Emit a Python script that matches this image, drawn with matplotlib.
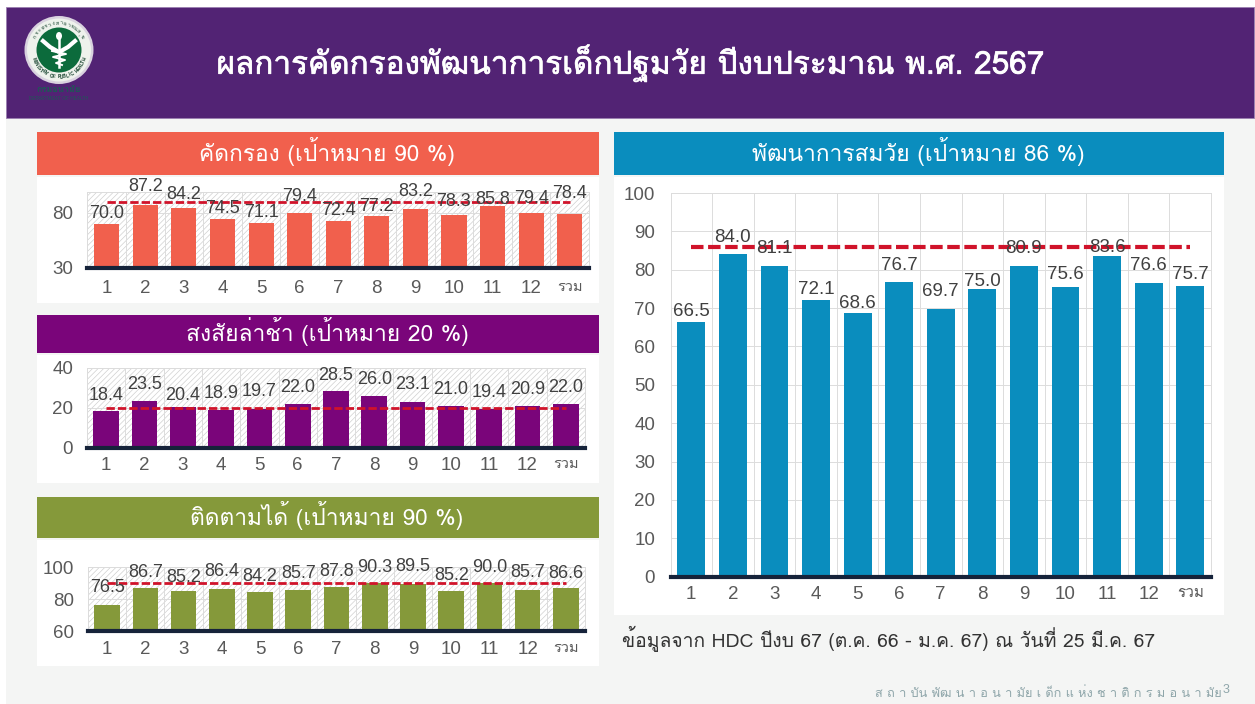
import re
import numpy as np
import matplotlib
matplotlib.use("Agg")
import matplotlib.pyplot as plt
import matplotlib.patheffects as pe
from matplotlib.patches import Rectangle, Ellipse

W, H = 1255, 704
THAI = ["Loma", "Liberation Sans"]
LATIN = ["Liberation Sans", "Loma"]
plt.rcParams["font.family"] = LATIN
plt.rcParams["hatch.linewidth"] = 0.5
plt.rcParams["hatch.color"] = "#d0d0d0"

# ข้อมูล
categories = ["1", "2", "3", "4", "5", "6", "7", "8", "9", "10", "11", "12", "รวม"]
screening = [70.0, 87.2, 84.2, 74.5, 71.1, 79.4, 72.4, 77.2, 83.2, 78.3, 85.8, 79.4, 78.4]
suspected = [18.4, 23.5, 20.4, 18.9, 19.7, 22.0, 28.5, 26.0, 23.1, 21.0, 19.4, 20.9, 22.0]
followup = [76.5, 86.7, 85.2, 86.4, 84.2, 85.7, 87.8, 90.3, 89.5, 85.2, 90.0, 85.7, 86.6]
on_track = [66.5, 84.0, 81.1, 72.1, 68.6, 76.7, 69.7, 75.0, 80.9, 75.6, 83.6, 76.6, 75.7]
target_screening = 90
target_suspected = 20
target_followup = 90
target_on_track = 86

# ระยะป้ายเหนือแท่ง (พิกเซล)
dy_screening = [10, 18, 14, 10, 10.5, 17, 11, 9, 18, 12.6, 7, 15, 21]
dy_suspected = [16, 16.3, 11.5, 17, 17, 16.3, 16, 17, 17, 17, 17, 17, 16.3]
dy_followup = [17, 16, 13, 17, 16, 16, 15.5, 15.5, 17, 15, 16, 17, 15]
dy_on_track = [10, 17, 17, 11, 9.5, 16.5, 18, 7, 18, 12.4, 8, 17, 12]


def px_axes(fig, x0, y0, x1, y1, **kw):
    return fig.add_axes([x0 / W, 1 - y1 / H, (x1 - x0) / W, (y1 - y0) / H], **kw)


def bar_panel(fig, box, values, target, color, ylim, yticks, dy, bar_w, hatch,
              line_w, label_size=13, tick_size=13.5, total_size=10.5, ypad=10, xpad=9):
    ax = px_axes(fig, *box)
    x = np.arange(len(values))
    ax.set_xlim(-0.5, len(values) - 0.5)
    ax.set_ylim(*ylim)
    ax.set_facecolor("white")
    if hatch:
        ax.patch.set_hatch("//////")
        ax.patch.set_edgecolor("#d0d0d0")
    for s in ["top", "left", "right"]:
        ax.spines[s].set_color("#dcdcdc")
        ax.spines[s].set_linewidth(0.7)
    ax.spines["bottom"].set_color("#16233a")
    ax.spines["bottom"].set_linewidth(3.0)
    ax.spines["bottom"].set_zorder(5)
    ax.set_axisbelow(True)
    ax.set_yticks(yticks)
    ax.set_xticks(x)
    ax.set_xticklabels(categories)
    ax.set_xticks(np.arange(len(values) + 1) - 0.5, minor=True)
    ax.grid(True, which="minor", axis="x", color="#dcdcdc", lw=0.7)
    ax.grid(True, which="major", axis="y", color="#dcdcdc", lw=0.7)
    ax.tick_params(which="both", length=0)
    ax.tick_params(axis="y", labelsize=tick_size, labelcolor="#595959", pad=ypad)
    ax.tick_params(axis="x", labelsize=tick_size, labelcolor="#595959", pad=xpad)
    total = ax.get_xticklabels()[-1]
    total.set_fontfamily(THAI)
    total.set_fontsize(total_size)
    ax.bar(x, values, width=bar_w, color=color, zorder=2)
    ax.plot(x, [target] * len(x), color="#d0132a", lw=line_w, ls=(0, (3.0, 1.1)), zorder=3)
    for xi, v, d in zip(x, values, dy):
        ax.annotate(f"{v:.1f}", (xi, v), xytext=(0, d * 0.72), textcoords="offset points",
                    ha="center", va="center", fontsize=label_size, color="#404040", zorder=4,
                    annotation_clip=False)
    return ax


def spaced(s):
    # เว้นระยะตัวอักษร แต่คงสระบน/ล่างไว้กับพยัญชนะ
    return re.sub(r"([^\u0e31\u0e34-\u0e3a\u0e47-\u0e4e ])(?=[^\u0e31\u0e34-\u0e3a\u0e47-\u0e4e ])", r"\1 ", s)


def draw_logo(bg):
    cx, cy = 59, 50
    bg.add_patch(Ellipse((cx, cy), 69, 68, fc="#d9d2df", ec="none", zorder=2))
    bg.add_patch(Ellipse((cx, cy), 64, 63, fc="#eef2ec", ec="none", zorder=2))
    bg.add_patch(Ellipse((cx, cy), 45, 45, fc="#0c6b3c", ec="none", zorder=2))
    top = "กระทรวงสาธารณสุข"
    for i, ch in enumerate(top):
        a = np.radians(150 - 120 * i / (len(top) - 1))
        bg.text(cx + 27 * np.cos(a), cy - 27 * np.sin(a), ch, fontsize=3.8, color="#123f2a",
                family=THAI, ha="center", va="center", rotation=np.degrees(a) - 90, zorder=3)
    low = "MINISTRY OF PUBLIC HEALTH"
    for i, ch in enumerate(low):
        a = np.radians(200 + 140 * i / (len(low) - 1))
        bg.text(cx + 27 * np.cos(a), cy - 27 * np.sin(a), ch, fontsize=3.4, color="#123f2a",
                weight="bold", ha="center", va="center", rotation=np.degrees(a) + 90, zorder=3)
    # คทางู
    bg.plot([cx, cx], [cy - 16, cy + 17], color="white", lw=1.8, zorder=3)
    bg.plot([cx - 16, cx - 9, cx - 2], [cy - 9, cy - 3, cy + 1], color="white", lw=3, zorder=3)
    bg.plot([cx + 16, cx + 9, cx + 2], [cy - 9, cy - 3, cy + 1], color="white", lw=3, zorder=3)
    bg.plot([cx - 7, cx + 7, cx - 6, cx + 6, cx - 3, cx + 3], [cy + 1, cy + 4, cy + 7, cy + 10, cy + 13, cy + 15],
            color="white", lw=1.4, zorder=3)
    bg.add_patch(Ellipse((cx, cy - 14), 6, 8, fc="white", ec="none", zorder=3))
    bg.text(cx, 90, "กรมอนามัย", fontsize=6.5, color="#1c5a55", family=THAI, ha="center", va="center",
            weight="bold", zorder=3)
    bg.text(cx, 98, "DEPARTMENT OF HEALTH", fontsize=3.4, color="#1c5a55", ha="center", va="center", zorder=3)


fig = plt.figure(figsize=(W / 100, H / 100), dpi=100, facecolor="white")

bg = px_axes(fig, 0, 0, W, H)
bg.set_xlim(0, W)
bg.set_ylim(H, 0)
bg.axis("off")
bg.add_patch(Rectangle((6, 118), W - 6, H - 118, fc="#f4f5f4", ec="none"))
bg.add_patch(Rectangle((6, 7), 1248, 111, fc="#522374", ec="#9a7fb0", lw=0.6))
draw_logo(bg)

title = bg.text(630, 63, "ผลการคัดกรองพัฒนาการเด็กปฐมวัย ปีงบประมาณ พ.ศ. 2567", color="white", fontsize=22.7,
                family=THAI, ha="center", va="center")
title.set_path_effects([
    pe.SimpleLineShadow(offset=(1.2, -1.2), shadow_color="#2a0d40", alpha=0.9),
    pe.Stroke(linewidth=0.5, foreground="white"),
    pe.Normal(),
])

# x0, y0, x1, y1, พื้นขาวบน, พื้นขาวล่าง, สี, ข้อความ, กลางข้อความ
panels = [
    (37, 132, 599, 175, 177, 303, "#F1604D", "คัดกรอง (เป้าหมาย 90 %)", 327),
    (37, 315, 599, 353, 355, 483, "#7A057A", "สงสัยล่าช้า (เป้าหมาย 20 %)", 327),
    (37, 497, 599, 538, 540, 666, "#85993A", "ติดตามได้ (เป้าหมาย 90 %)", 327),
    (614, 132, 1224, 175, 177, 615, "#0A8DBE", "พัฒนาการสมวัย (เป้าหมาย 86 %)", 918.5),
]
for x0, y0, x1, y1, wy0, wy1, col, txt, tx in panels:
    bg.add_patch(Rectangle((x0, wy0), x1 - x0, wy1 - wy0, fc="white", ec="none"))
    bg.add_patch(Rectangle((x0, y0), x1 - x0, y1 - y0, fc=col, ec="none"))
    bg.text(tx, (y0 + y1) / 2 - 2, txt, color="white", fontsize=16.4, family=THAI, ha="center", va="center")

bg.text(622, 639, "ข้อมูลจาก HDC ปีงบ 67 (ต.ค. 66 - ม.ค. 67) ณ วันที่ 25 มี.ค. 67", color="#333333",
        fontsize=13.9, family=THAI, ha="left", va="center")
bg.text(1222, 694, spaced("สถาบันพัฒนาอนามัยเด็กแห่งชาติ กรมอนามัย"), color="#8fa6aa", fontsize=9.2,
        family=THAI, ha="right", va="center")
bg.text(1223, 690, "3", color="#8fa6aa", fontsize=9, ha="left", va="center")

for a in [
    bar_panel(fig, (87.5, 192, 589, 268), screening, target_screening, "#F1604D", (30, 98.7), [30, 80],
              dy_screening, 0.65, True, 2.0, xpad=8.5),
    bar_panel(fig, (87, 368, 585, 448), suspected, target_suspected, "#7A057A", (0, 40), [0, 20, 40],
              dy_suspected, 0.67, True, 2.0, xpad=6.5),
    bar_panel(fig, (88, 567, 585, 631), followup, target_followup, "#85993A", (60, 100), [60, 80, 100],
              dy_followup, 0.67, True, 2.0, xpad=7.5),
    bar_panel(fig, (670.5, 193, 1211, 576.7), on_track, target_on_track, "#0A8DBE", (0, 100),
              list(range(0, 101, 10)), dy_on_track, 0.67, False, 3.0, label_size=13.5, tick_size=13.5,
              total_size=11, ypad=11, xpad=7),
]:
    a.set_zorder(2)

fig.savefig("out.png", dpi=100, facecolor=fig.get_facecolor())
